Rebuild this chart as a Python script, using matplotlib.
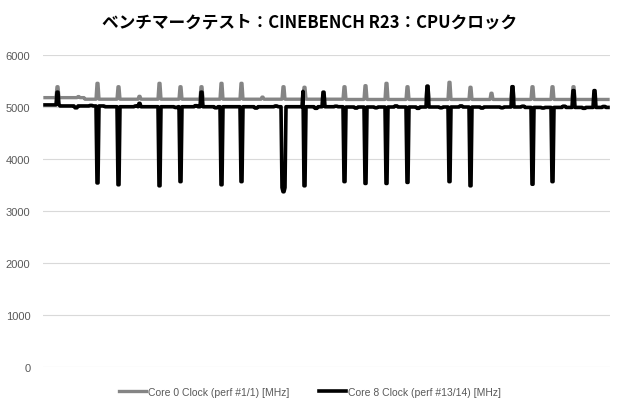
import numpy as np
import matplotlib
matplotlib.use("Agg")
import matplotlib.pyplot as plt

# ------------------------------------------------------------
# Data (sample index ~ 1 per pixel column)
# ------------------------------------------------------------
N_SAMPLES = 564

# sample index of every periodic event (spike) in the log
event_idx = [12, 33, 52, 73, 94, 114, 135, 156, 176, 196, 217, 238, 259, 278,
             299, 320, 341, 362, 382, 404, 425, 446, 467, 487, 507, 528, 549]

# Core 0 peak value at each event (None = stays on baseline)
core0_peak = [5390, 5200, 5455, 5390, 5205, 5455, 5390, 5390, 5455, 5455,
              5190, 5390, 5380, None, 5390, 5410, 5455, 5390, 5400, 5475,
              5380, 5265, 5390, 5390, 5390, 5390, None]

# Core 8 value at each event (None = stays on baseline)
core8_value = [5285, None, 3540, 3505, 5070, 3485, 3565, 5285, 3505, 3565,
               None, 3370, 3485, 5285, 3565, 3530, 3530, 3550, 5400, 3565,
               3485, None, 5390, 3515, 3565, 5315, 5315]

# baseline levels: (start index, MHz)
core0_base = [(0, 5180), (40, 5150), (300, 5145)]
core8_base = [(0, 5040), (15, 5020), (60, 5005), (300, 5000), (480, 4992)]

# small wiggles on the Core 8 trace: (index, MHz)
core8_wiggle = [(30, 4985), (45, 5030), (90, 5020), (130, 4990), (150, 5025),
                (170, 4985), (210, 4980), (230, 5020), (270, 4975), (290, 5015),
                (310, 4980), (330, 4985), (350, 5020), (372, 4975), (395, 4985),
                (415, 5020), (436, 4980), (456, 4985), (477, 5015), (497, 4980),
                (518, 5015), (538, 4975), (558, 5010)]

# extra shape points for the wide / double spikes: (index, MHz)
core8_extra = [(237, 3450), (240, 3450), (258, 5300)]

legend_labels = ["Core 0 Clock (perf #1/1) [MHz]", "Core 8 Clock (perf #13/14) [MHz]"]
y_ticks = [0, 1000, 2000, 3000, 4000, 5000, 6000]


def build(base, n):
    arr = np.zeros(n)
    for k, (start, val) in enumerate(base):
        end = base[k + 1][0] if k + 1 < len(base) else n
        arr[start:end] = val
    return arr


core0 = build(core0_base, N_SAMPLES)
core8 = build(core8_base, N_SAMPLES)
for i, v in core8_wiggle:
    core8[i:i + 3] = v
for i, v in zip(event_idx, core0_peak):
    if v is not None:
        core0[i:i + 2] = v
for i, v in zip(event_idx, core8_value):
    if v is not None:
        core8[i:i + 2] = v
for i, v in core8_extra:
    core8[i] = v

x = np.arange(N_SAMPLES)

# ------------------------------------------------------------
# Plot
# ------------------------------------------------------------
fig = plt.figure(figsize=(6.2, 4.1), dpi=100)
ax = fig.add_axes([43 / 620, 42 / 410, 567 / 620, 312 / 410])

ax.plot(x, core0, color="#858585", linewidth=2.4, solid_joinstyle="round",
        label=legend_labels[0], zorder=3)
ax.plot(x, core8, color="#000000", linewidth=2.6, solid_joinstyle="round",
        label=legend_labels[1], zorder=4)

ax.set_xlim(-2, N_SAMPLES + 1)
ax.set_ylim(0, 6000)
ax.set_yticks(y_ticks)
ax.set_xticks([])
ax.grid(axis="y", color="#d9d9d9", linewidth=0.8)
ax.set_axisbelow(True)
for s in ax.spines.values():
    s.set_visible(False)
ax.tick_params(axis="y", length=0, pad=9, labelsize=8, labelcolor="#595959")
for lab in ax.get_yticklabels():
    lab.set_family("Liberation Sans")

fig.text(0.5, 1 - 22 / 410, "ベンチマークテスト：CINEBENCH R23：CPUクロック",
         ha="center", va="center", fontsize=12, fontweight="bold",
         family=["Noto Sans CJK JP", "DejaVu Sans"])

fig.legend(loc="center", bbox_to_anchor=(0.5, 17 / 410), ncol=2, frameon=False,
           prop={"family": "Liberation Sans", "size": 7.5}, labelcolor="#595959",
           handlelength=2.6, handletextpad=0.2, columnspacing=2.8)

plt.savefig("out.png", dpi=100)
